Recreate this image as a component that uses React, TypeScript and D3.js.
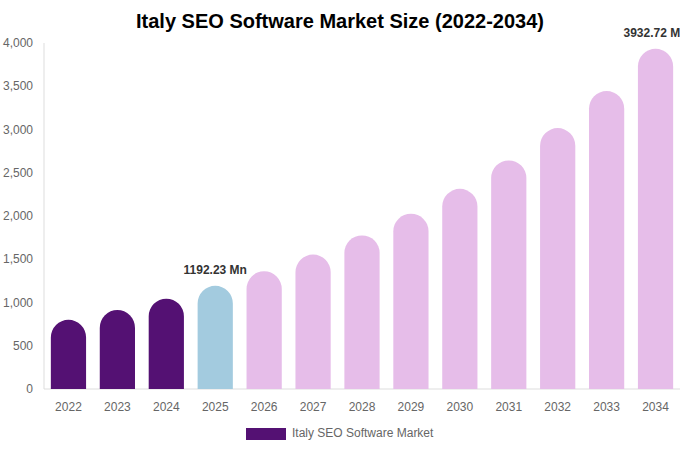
import React, { useEffect, useRef } from 'react';
import * as d3 from 'd3';

const years: string[] = ['2022', '2023', '2024', '2025', '2026', '2027', '2028', '2029', '2030', '2031', '2032', '2033', '2034'];
const marketSize: number[] = [800, 913, 1044, 1192.23, 1361, 1554, 1775, 2026, 2314, 2642, 3016, 3444, 3932.72];
const barKind: string[] = ['hist', 'hist', 'hist', 'base', 'fc', 'fc', 'fc', 'fc', 'fc', 'fc', 'fc', 'fc', 'fc'];
const yTicks: number[] = [0, 500, 1000, 1500, 2000, 2500, 3000, 3500, 4000];
const labelled: string[] = ['2025', '2034'];

const colors: Record<string, string> = { hist: '#541173', base: '#a3cbdf', fc: '#e6bde9' };

const App: React.FC = () => {
  const svgRef = useRef<SVGSVGElement | null>(null);

  useEffect(() => {
    document.body.style.margin = '0';
    const svg = d3.select(svgRef.current);
    svg.selectAll('*').remove();

    const width = 680;
    const height = 450;
    const margin = { top: 43, right: 0, bottom: 61, left: 44 };
    const font = 'Liberation Sans, Arial, sans-serif';

    const x = d3.scaleBand<string>()
      .domain(years)
      .range([margin.left, width - margin.right])
      .paddingInner(0.28)
      .paddingOuter(0.14);

    const y = d3.scaleLinear()
      .domain([0, 4000])
      .range([height - margin.bottom, margin.top]);

    // title
    svg.append('text')
      .attr('x', width / 2)
      .attr('y', 28)
      .attr('text-anchor', 'middle')
      .attr('font-family', font)
      .attr('font-size', 20)
      .attr('font-weight', 'bold')
      .attr('fill', '#000')
      .text('Italy SEO Software Market Size (2022-2034)');

    // axes lines
    svg.append('line')
      .attr('x1', margin.left).attr('x2', margin.left)
      .attr('y1', y(4000)).attr('y2', y(0))
      .attr('stroke', '#ddd');
    svg.append('line')
      .attr('x1', margin.left).attr('x2', width)
      .attr('y1', y(0)).attr('y2', y(0))
      .attr('stroke', '#ddd');

    // y tick labels
    svg.append('g')
      .selectAll('text')
      .data(yTicks)
      .join('text')
      .attr('x', 33)
      .attr('y', d => y(d) + 4)
      .attr('text-anchor', 'end')
      .attr('font-family', font)
      .attr('font-size', 12)
      .attr('fill', '#666')
      .text(d => d3.format(',')(d));

    // x tick labels
    svg.append('g')
      .selectAll('text')
      .data(years)
      .join('text')
      .attr('x', d => (x(d) ?? 0) + x.bandwidth() / 2)
      .attr('y', 411)
      .attr('text-anchor', 'middle')
      .attr('font-family', font)
      .attr('font-size', 12)
      .attr('fill', '#666')
      .text(d => d);

    // bars with round tops
    const bw = x.bandwidth();
    const r = bw / 2;
    const barPath = (i: number) => {
      const x0 = x(years[i]) ?? 0;
      const top = y(marketSize[i]);
      const base = y(0);
      const p = d3.path();
      p.moveTo(x0, base);
      p.lineTo(x0, top + r);
      p.arc(x0 + r, top + r, r, Math.PI, 0);
      p.lineTo(x0 + bw, base);
      p.closePath();
      return p.toString();
    };

    svg.append('g')
      .selectAll('path')
      .data(years)
      .join('path')
      .attr('d', (_, i) => barPath(i))
      .attr('fill', (_, i) => colors[barKind[i]]);

    // value labels
    svg.append('g')
      .selectAll('text')
      .data(years.filter(yr => labelled.includes(yr)))
      .join('text')
      .attr('x', d => (x(d) ?? 0) + bw / 2)
      .attr('y', d => y(marketSize[years.indexOf(d)]) - 12)
      .attr('text-anchor', 'middle')
      .attr('font-family', font)
      .attr('font-size', 12)
      .attr('font-weight', 'bold')
      .attr('fill', '#333')
      .text(d => `${marketSize[years.indexOf(d)]} Mn`);

    // legend
    svg.append('rect')
      .attr('x', 246).attr('y', 428)
      .attr('width', 40).attr('height', 12)
      .attr('fill', colors.hist);
    svg.append('text')
      .attr('x', 292).attr('y', 437)
      .attr('font-family', font)
      .attr('font-size', 12)
      .attr('fill', '#666')
      .text('Italy SEO Software Market');
  }, []);

  return (
    <div style={{ position: 'absolute', left: 0, top: 0 }}>
      <svg ref={svgRef} width="680" height="450" style={{ display: 'block', background: '#fff' }}></svg>
    </div>
  );
};

export default App;
